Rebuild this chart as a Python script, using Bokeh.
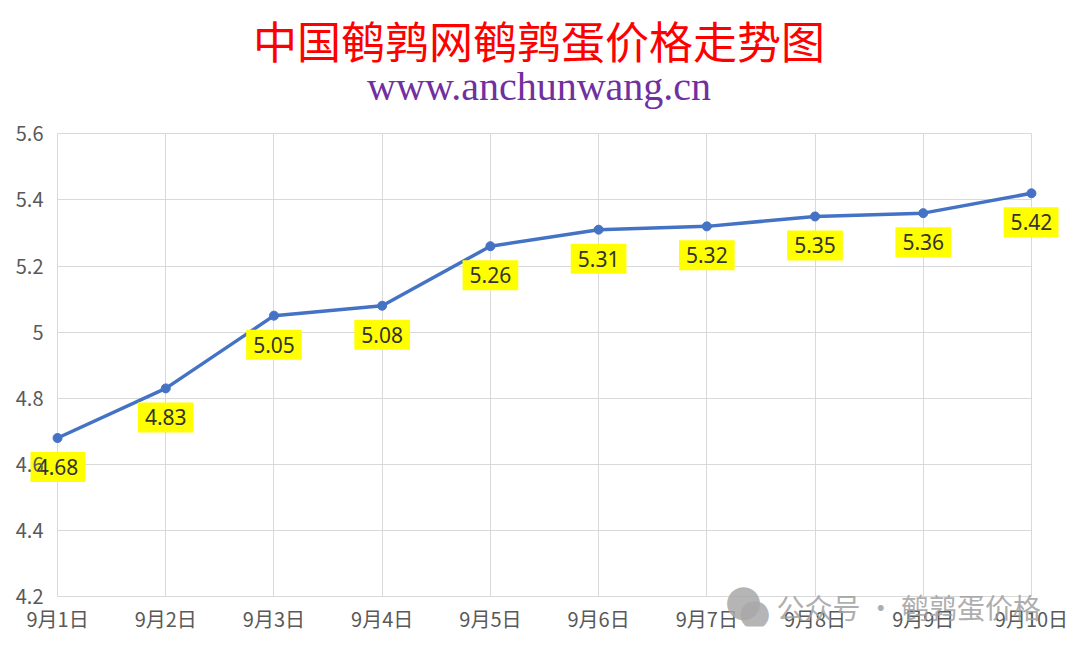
from bokeh.plotting import figure
from bokeh.models import (ColumnDataSource, FixedTicker, Label,
                          CustomJSTickFormatter, Range1d)
from bokeh.embed import file_html
from bokeh.resources import INLINE

title_text = "中国鹌鹑网鹌鹑蛋价格走势图"
subtitle_text = "www.anchunwang.cn"
watermark_text = "公众号 · 鹌鹑蛋价格"
dates = ["9月1日", "9月2日", "9月3日", "9月4日", "9月5日",
         "9月6日", "9月7日", "9月8日", "9月9日", "9月10日"]
prices = [4.68, 4.83, 5.05, 5.08, 5.26, 5.31, 5.32, 5.35, 5.36, 5.42]
y_ticks = [4.2, 4.4, 4.6, 4.8, 5.0, 5.2, 5.4, 5.6]

xs = list(range(len(dates)))
src = ColumnDataSource(dict(x=xs, y=prices))

# frame is extended around the data area so that titles / labels are not clipped
xpad = 0.25
y_lo, y_hi = 4.11, 6.0
p = figure(width=1080, height=650, output_backend="svg", toolbar_location=None,
           x_range=Range1d(-xpad, len(dates) - 1 + xpad), y_range=Range1d(y_lo, y_hi),
           min_border_left=30, min_border_right=22, min_border_bottom=24,
           min_border_top=1)
p.outline_line_color = None
p.background_fill_color = "white"
p.border_fill_color = "white"

p.add_layout(Label(x=4.45, y=5.885, text=title_text, text_align="center",
                   text_baseline="middle", text_color="#FF0000",
                   text_font="Noto Sans CJK SC", text_font_size="44px"))
p.add_layout(Label(x=4.45, y=5.742, text=subtitle_text, text_align="center",
                   text_baseline="middle", text_color="#7030A0",
                   text_font="Liberation Serif", text_font_size="40px"))

p.line("x", "y", source=src, line_color="#4472C4", line_width=3.5)
p.scatter("x", "y", source=src, size=9, color="#4472C4")

for xi, v in zip(xs, prices):
    p.add_layout(Label(x=xi, y=v, text=f"{v:.2f}", y_offset=-29,
                       text_align="center", text_baseline="middle",
                       text_font="Noto Sans", text_font_size="21px",
                       text_color="#333333", background_fill_color="#FFFF00",
                       padding=7))

p.xaxis.ticker = FixedTicker(ticks=xs)
p.xaxis.major_label_overrides = {i: d for i, d in enumerate(dates)}
p.yaxis.ticker = FixedTicker(ticks=y_ticks)
p.yaxis.formatter = CustomJSTickFormatter(code="return String(Number(tick.toFixed(1)));")
for ax in (p.xaxis, p.yaxis):
    ax.axis_line_color = None
    ax.major_tick_line_color = None
    ax.minor_tick_line_color = None
    ax.major_label_text_font = "Noto Sans CJK SC"
    ax.major_label_text_font_size = "20px"
    ax.major_label_text_color = "#595959"
p.yaxis.major_label_standoff = -19
p.xaxis.major_label_standoff = -29
p.yaxis.level = "overlay"

p.xgrid.ticker = FixedTicker(ticks=xs)
p.xgrid.cross_bounds = (4.2, 5.6)
p.ygrid.ticker = FixedTicker(ticks=y_ticks)
p.ygrid.cross_bounds = (0, len(dates) - 1)
p.grid.grid_line_color = "#D9D9D9"
p.grid.grid_line_width = 1

# watermark (WeChat-style icon + text)
p.add_layout(Label(x=6.339, y=4.19, text="●", text_font="DejaVu Sans",
                   text_font_size="43px", text_color="#A8A8A8", text_alpha=0.85,
                   text_align="center", text_baseline="middle"))
p.add_layout(Label(x=6.441, y=4.153, text="●", text_font="DejaVu Sans",
                   text_font_size="37px", text_color="#A8A8A8", text_alpha=0.85,
                   text_align="center", text_baseline="middle"))
p.add_layout(Label(x=6.644, y=4.17, text=watermark_text, text_font="Noto Sans CJK SC",
                   text_font_size="28px", text_color="#A0A0A0", text_alpha=0.85,
                   text_baseline="middle", text_align="left"))

open("out.html", "w").write(file_html(p, INLINE))
